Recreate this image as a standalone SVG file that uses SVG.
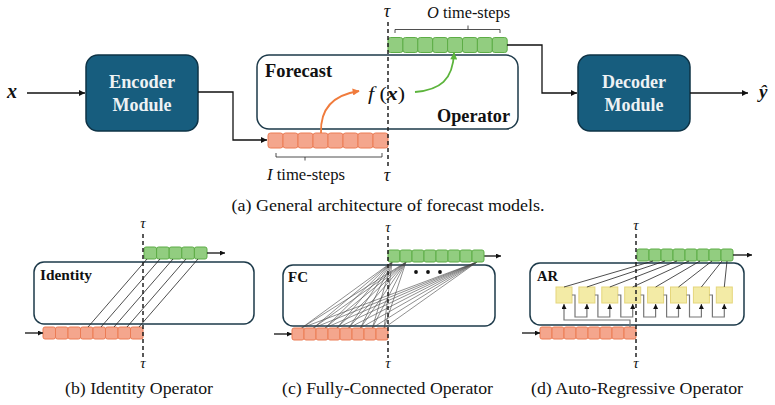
<svg xmlns="http://www.w3.org/2000/svg" width="775" height="405" viewBox="0 0 775 405">
<style>
text{font-family:"Liberation Serif","Times New Roman",Times,serif;fill:#111}
.mod{fill:#175d7e;stroke:#0e3346;stroke-width:1.5}
.modt{fill:#eef2f4;font-weight:bold;font-size:18px;text-anchor:middle}
.op{fill:#fff;stroke:#1d3a4a;stroke-width:1.5}
.g{fill:#92cd80;stroke:#5dad46;stroke-width:1}
.p{fill:#f4a68d;stroke:#ec7c55;stroke-width:1}
.yb{fill:#f3eba6;stroke:#e5d67c;stroke-width:1}
.ln{stroke:#111;stroke-width:1.3;fill:none}
.thin{stroke:#222;stroke-width:0.8;fill:none}
.fc{stroke:#444;stroke-width:0.6;fill:none}
.fb{stroke:#777;stroke-width:1.2;fill:none}
.dash{stroke:#222;stroke-width:1.5;stroke-dasharray:4,3;fill:none}
.tau{font-style:italic;text-anchor:middle}
.cap{font-size:16px;text-anchor:middle}
.lbl{font-weight:bold}
</style>
<defs>
<marker id="ah" viewBox="0 0 10 10" refX="10" refY="5" markerWidth="8" markerHeight="6" markerUnits="userSpaceOnUse" orient="auto"><path d="M0,0L10,5L0,10z" fill="#111"/></marker>
<marker id="ahs" viewBox="0 0 10 10" refX="10" refY="5" markerWidth="6" markerHeight="5" markerUnits="userSpaceOnUse" orient="auto"><path d="M0,0L10,5L0,10z" fill="#111"/></marker>
<marker id="aho" viewBox="0 0 10 10" refX="9" refY="5" markerWidth="9" markerHeight="7" markerUnits="userSpaceOnUse" orient="auto"><path d="M0,0L10,5L0,10z" fill="#f07b3c"/></marker>
<marker id="ahg" viewBox="0 0 10 10" refX="9" refY="5" markerWidth="9" markerHeight="7" markerUnits="userSpaceOnUse" orient="auto"><path d="M0,0L10,5L0,10z" fill="#5cb43c"/></marker>
</defs>

<!-- ===== (a) top ===== -->
<text x="7" y="98" font-size="20" font-weight="bold" font-style="italic">x</text>
<g id="encoder">
<rect class="mod" x="86" y="55" width="112" height="76" rx="12"/>
<text class="modt" x="142" y="88" textLength="66" lengthAdjust="spacingAndGlyphs">Encoder</text>
<text class="modt" x="142" y="111" textLength="59" lengthAdjust="spacingAndGlyphs">Module</text>
</g>
<g id="forecast-operator">
<rect class="op" x="257" y="55" width="261" height="74" rx="12"/>
<text class="lbl" x="265" y="77" font-size="18" textLength="67" lengthAdjust="spacingAndGlyphs">Forecast</text>
<text class="lbl" x="510" y="122" font-size="18" text-anchor="end" textLength="73" lengthAdjust="spacingAndGlyphs">Operator</text>
<text x="368" y="100" font-size="18" xml:space="preserve" textLength="37" lengthAdjust="spacingAndGlyphs"><tspan font-style="italic">f</tspan> (<tspan font-weight="bold" font-style="italic">x</tspan>)</text>
</g>
<g id="decoder">
<rect class="mod" x="578" y="55" width="112" height="76" rx="12"/>
<text class="modt" x="634" y="88" textLength="64" lengthAdjust="spacingAndGlyphs">Decoder</text>
<text class="modt" x="634" y="111" textLength="59" lengthAdjust="spacingAndGlyphs">Module</text>
</g>
<text x="759" y="98" font-size="19" font-weight="bold" font-style="italic">ŷ</text>

<g id="input-seq-a">
<rect class="p" x="268" y="133" width="15" height="15" rx="2.5"/>
<rect class="p" x="283" y="133" width="15" height="15" rx="2.5"/>
<rect class="p" x="298" y="133" width="15" height="15" rx="2.5"/>
<rect class="p" x="313" y="133" width="15" height="15" rx="2.5"/>
<rect class="p" x="328" y="133" width="15" height="15" rx="2.5"/>
<rect class="p" x="343" y="133" width="15" height="15" rx="2.5"/>
<rect class="p" x="358" y="133" width="15" height="15" rx="2.5"/>
<rect class="p" x="373" y="133" width="15" height="15" rx="2.5"/>
</g>
<g id="output-seq-a">
<rect class="g" x="388" y="37.5" width="14.9" height="15" rx="2.5"/>
<rect class="g" x="402.9" y="37.5" width="14.9" height="15" rx="2.5"/>
<rect class="g" x="417.8" y="37.5" width="14.9" height="15" rx="2.5"/>
<rect class="g" x="432.7" y="37.5" width="14.9" height="15" rx="2.5"/>
<rect class="g" x="447.6" y="37.5" width="14.9" height="15" rx="2.5"/>
<rect class="g" x="462.5" y="37.5" width="14.9" height="15" rx="2.5"/>
<rect class="g" x="477.4" y="37.5" width="14.9" height="15" rx="2.5"/>
<rect class="g" x="492.3" y="37.5" width="14.9" height="15" rx="2.5"/>
</g>
<path class="dash" d="M388,22V167"/>
<text class="tau" x="387" y="17" font-size="18">τ</text>
<text class="tau" x="387" y="181" font-size="18">τ</text>
<path class="thin" d="M395,33V29.5H500V33M468,29.5V25.5"/>
<text x="427" y="18" font-size="16" textLength="83" lengthAdjust="spacingAndGlyphs"><tspan font-style="italic">O</tspan> time-steps</text>
<path class="thin" d="M276,153V157H382V153M305,157V160.5"/>
<text x="267" y="180" font-size="16" textLength="78" lengthAdjust="spacingAndGlyphs"><tspan font-style="italic">I</tspan> time-steps</text>

<g id="connectors-a">
<path class="ln" d="M27,93H85" marker-end="url(#ah)"/>
<path class="ln" d="M198,92H233V140H267" marker-end="url(#ah)"/>
<path class="ln" d="M507,45H542V93H577" marker-end="url(#ah)"/>
<path class="ln" d="M690,93H748" marker-end="url(#ah)"/>
<path d="M321,133C320,108 333,95 359,91" stroke="#f07b3c" stroke-width="1.8" fill="none" marker-end="url(#aho)"/>
<path d="M415,92C440,90 453,80 454,53" stroke="#5cb43c" stroke-width="1.8" fill="none" marker-end="url(#ahg)"/>
</g>
<text class="cap" x="388" y="211" textLength="313" lengthAdjust="spacingAndGlyphs">(a) General architecture of forecast models.</text>

<!-- ===== (b) Identity ===== -->
<g id="identity-op">
<rect class="op" x="34" y="262" width="220" height="62" rx="10"/>
<text class="lbl" x="40" y="280" font-size="15" textLength="52" lengthAdjust="spacingAndGlyphs">Identity</text>
</g>
<g id="input-seq-b">
<rect class="p" x="43" y="327" width="12.5" height="12" rx="2"/>
<rect class="p" x="55.5" y="327" width="12.5" height="12" rx="2"/>
<rect class="p" x="68" y="327" width="12.5" height="12" rx="2"/>
<rect class="p" x="80.5" y="327" width="12.5" height="12" rx="2"/>
<rect class="p" x="93" y="327" width="12.5" height="12" rx="2"/>
<rect class="p" x="105.5" y="327" width="12.5" height="12" rx="2"/>
<rect class="p" x="118" y="327" width="12.5" height="12" rx="2"/>
<rect class="p" x="130.5" y="327" width="12.5" height="12" rx="2"/>
</g>
<g id="output-seq-b">
<rect class="g" x="144" y="247" width="12.6" height="12" rx="2"/>
<rect class="g" x="156.6" y="247" width="12.6" height="12" rx="2"/>
<rect class="g" x="169.2" y="247" width="12.6" height="12" rx="2"/>
<rect class="g" x="181.8" y="247" width="12.6" height="12" rx="2"/>
<rect class="g" x="194.4" y="247" width="12.6" height="12" rx="2"/>
</g>
<path class="dash" d="M143,234V358"/>
<text class="tau" x="143" y="228" font-size="15">τ</text>
<text class="tau" x="143" y="368" font-size="15">τ</text>
<g id="connectors-b">
<path class="thin" d="M88,327L147,259M101,327L160,259M114,327L173,259M127,327L186,259M139,327L198,259"/>
<path class="ln" d="M25,333H43" marker-end="url(#ahs)"/>
<path class="ln" d="M207,253H225" marker-end="url(#ahs)"/>
</g>
<text class="cap" x="139" y="394" textLength="148" lengthAdjust="spacingAndGlyphs">(b) Identity Operator</text>

<!-- ===== (c) FC ===== -->
<g id="fc-op">
<rect class="op" x="283" y="265" width="212" height="61" rx="10"/>
<text class="lbl" x="288" y="282" font-size="15" textLength="20" lengthAdjust="spacingAndGlyphs">FC</text>
<circle cx="416" cy="272" r="1.9" fill="#111"/>
<circle cx="428" cy="272" r="1.9" fill="#111"/>
<circle cx="440" cy="272" r="1.9" fill="#111"/>
</g>
<g id="connectors-c">
<path class="fc" d="M301.5,328L392,262M313.3,328L392,262M325.1,328L392,262M336.9,328L392,262M348.7,328L392,262M360.5,328L392,262M372.3,328L392,262M384.1,328L392,262"/>
<path class="fc" d="M301.5,328L406,262M313.3,328L406,262M325.1,328L406,262M336.9,328L406,262M348.7,328L406,262M360.5,328L406,262M372.3,328L406,262M384.1,328L406,262"/>
<path class="fc" d="M301.5,328L477,262M313.3,328L477,262M325.1,328L477,262M336.9,328L477,262M348.7,328L477,262M360.5,328L477,262M372.3,328L477,262M384.1,328L477,262"/>
<path class="ln" d="M274,334H292" marker-end="url(#ahs)"/>
<path class="ln" d="M484,256H501" marker-end="url(#ahs)"/>
</g>
<g id="input-seq-c">
<rect class="p" x="292" y="328" width="12" height="12" rx="2"/>
<rect class="p" x="304" y="328" width="12" height="12" rx="2"/>
<rect class="p" x="316" y="328" width="12" height="12" rx="2"/>
<rect class="p" x="328" y="328" width="12" height="12" rx="2"/>
<rect class="p" x="340" y="328" width="12" height="12" rx="2"/>
<rect class="p" x="352" y="328" width="12" height="12" rx="2"/>
<rect class="p" x="364" y="328" width="12" height="12" rx="2"/>
<rect class="p" x="376" y="328" width="12" height="12" rx="2"/>
</g>
<g id="output-seq-c">
<rect class="g" x="388" y="250" width="12" height="12" rx="2"/>
<rect class="g" x="400" y="250" width="12" height="12" rx="2"/>
<rect class="g" x="412" y="250" width="12" height="12" rx="2"/>
<rect class="g" x="424" y="250" width="12" height="12" rx="2"/>
<rect class="g" x="436" y="250" width="12" height="12" rx="2"/>
<rect class="g" x="448" y="250" width="12" height="12" rx="2"/>
<rect class="g" x="460" y="250" width="12" height="12" rx="2"/>
<rect class="g" x="472" y="250" width="12" height="12" rx="2"/>
</g>
<path class="dash" d="M388,236V358"/>
<text class="tau" x="388" y="232" font-size="15">τ</text>
<text class="tau" x="388" y="368" font-size="15">τ</text>
<text class="cap" x="387.5" y="394" textLength="211" lengthAdjust="spacingAndGlyphs">(c) Fully-Connected Operator</text>

<!-- ===== (d) AR ===== -->
<g id="ar-op">
<rect class="op" x="530" y="263" width="214" height="62" rx="10"/>
<text class="lbl" x="537" y="281" font-size="15" textLength="21" lengthAdjust="spacingAndGlyphs">AR</text>
</g>
<g id="ar-cells">
<rect class="yb" x="556" y="287" width="16" height="16"/>
<rect class="yb" x="578.9" y="287" width="16" height="16"/>
<rect class="yb" x="601.8" y="287" width="16" height="16"/>
<rect class="yb" x="624.7" y="287" width="16" height="16"/>
<rect class="yb" x="647.6" y="287" width="16" height="16"/>
<rect class="yb" x="670.5" y="287" width="16" height="16"/>
<rect class="yb" x="693.4" y="287" width="16" height="16"/>
<rect class="yb" x="716.3" y="287" width="16" height="16"/>
</g>
<g id="input-seq-d">
<rect class="p" x="540" y="327" width="12" height="12" rx="2"/>
<rect class="p" x="552" y="327" width="12" height="12" rx="2"/>
<rect class="p" x="564" y="327" width="12" height="12" rx="2"/>
<rect class="p" x="576" y="327" width="12" height="12" rx="2"/>
<rect class="p" x="588" y="327" width="12" height="12" rx="2"/>
<rect class="p" x="600" y="327" width="12" height="12" rx="2"/>
<rect class="p" x="612" y="327" width="12" height="12" rx="2"/>
<rect class="p" x="624" y="327" width="12" height="12" rx="2"/>
</g>
<g id="output-seq-d">
<rect class="g" x="637" y="249" width="12" height="12" rx="2"/>
<rect class="g" x="649" y="249" width="12" height="12" rx="2"/>
<rect class="g" x="661" y="249" width="12" height="12" rx="2"/>
<rect class="g" x="673" y="249" width="12" height="12" rx="2"/>
<rect class="g" x="685" y="249" width="12" height="12" rx="2"/>
<rect class="g" x="697" y="249" width="12" height="12" rx="2"/>
<rect class="g" x="709" y="249" width="12" height="12" rx="2"/>
<rect class="g" x="721" y="249" width="12" height="12" rx="2"/>
</g>
<g id="connectors-d">
<path class="thin" d="M564,287L653,261M586.9,287L665,261M609.8,287L677,261M632.7,287L689,261M655.6,287L700,261M678.5,287L712,261M701.4,287L722,261M724.3,287L727,261"/>
<path class="fb" d="M630,327V320H564V304" marker-end="url(#ahs)"/>
<path class="fb" d="M572,295H575V317H586.9V304" marker-end="url(#ahs)"/>
<path class="fb" d="M594.9,295H597.9V317H609.8V304" marker-end="url(#ahs)"/>
<path class="fb" d="M617.8,295H620.8V317H632.7V304" marker-end="url(#ahs)"/>
<path class="fb" d="M640.7,295H643.7V317H655.6V304" marker-end="url(#ahs)"/>
<path class="fb" d="M663.6,295H666.6V317H678.5V304" marker-end="url(#ahs)"/>
<path class="fb" d="M686.5,295H689.5V317H701.4V304" marker-end="url(#ahs)"/>
<path class="fb" d="M709.4,295H712.4V317H724.3V304" marker-end="url(#ahs)"/>
<path class="ln" d="M522,333H540" marker-end="url(#ahs)"/>
<path class="ln" d="M733,255H752" marker-end="url(#ahs)"/>
</g>
<path class="dash" d="M636,234V358"/>
<text class="tau" x="636" y="230" font-size="15">τ</text>
<text class="tau" x="636" y="368" font-size="15">τ</text>
<text class="cap" x="637" y="394" textLength="212" lengthAdjust="spacingAndGlyphs">(d) Auto-Regressive Operator</text>
</svg>
